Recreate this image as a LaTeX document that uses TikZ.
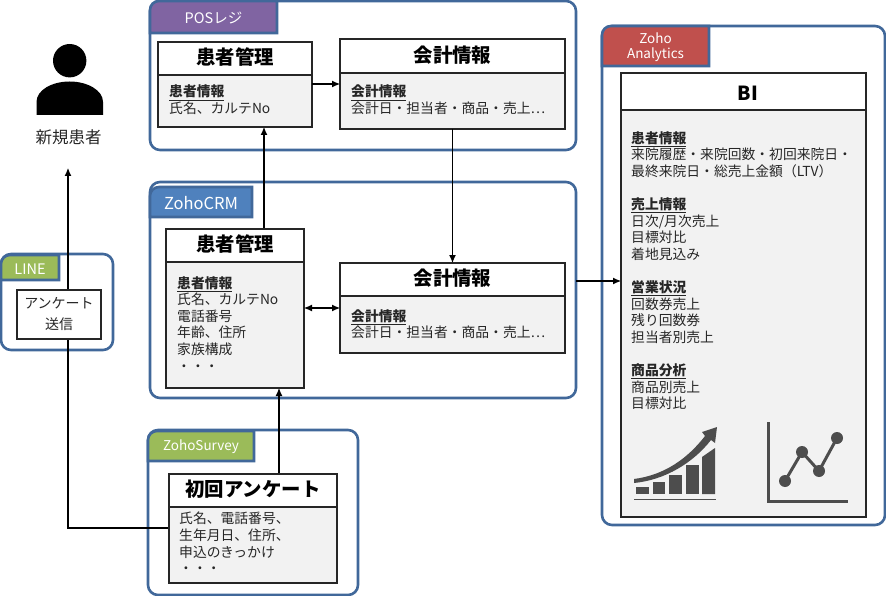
\documentclass[tikz,border=0pt]{standalone}
\usepackage{fontspec}
\setmainfont{Noto Sans CJK JP}
\usetikzlibrary{arrows.meta}
\definecolor{panelblue}{HTML}{41689A}
\definecolor{tabpurple}{HTML}{8064A2}
\definecolor{tabblue}{HTML}{4F81BD}
\definecolor{tabgreen}{HTML}{9BBB59}
\definecolor{tabred}{HTML}{C0504D}
\definecolor{cardgray}{HTML}{F2F2F2}
\definecolor{icongray}{HTML}{4D4D4D}
\definecolor{inkgray}{HTML}{262626}
\newcommand{\hd}[1]{\underline{\textbf{#1}}}
\newcommand{\tabbig}{\fontsize{16.5}{18}\selectfont}
\newcommand{\tabmid}{\fontsize{14.5}{16}\selectfont}

\begin{document}
\begin{tikzpicture}[x=1pt,y=-1pt]
    \tikzstyle{panel}=[draw=panelblue,line width=2.6pt,fill=white,rounded corners=10pt,anchor=north west,outer sep=0pt,inner sep=0pt]
    \tikzstyle{tabedge}=[draw=panelblue,line width=2.6pt,line join=miter]
    \tikzstyle{tablabel}=[white,font=\fontsize{13.5}{14.5}\selectfont,align=center,inner sep=0pt]
    \tikzstyle{cardhead}=[draw=inkgray,line width=1.6pt,fill=white,anchor=north west,outer sep=0pt,inner sep=0pt,text height=16pt,text depth=3.6pt,font=\fontsize{19.4}{22}\selectfont\bfseries]
    \tikzstyle{cardbody}=[draw=inkgray,line width=1.6pt,fill=cardgray,anchor=north west,outer sep=0pt,inner sep=0pt]
    \tikzstyle{cardtext}=[anchor=north west,align=left,inner sep=0pt,text=inkgray,font=\fontsize{13.8}{16.6}\selectfont]
    \tikzstyle{conn}=[black,line width=1.1pt,-{Latex[length=8pt,width=7pt]}]
    \useasboundingbox (0,0) rectangle (886,596);

    % panels
    \foreach \name/\x/\y/\w/\h in {posPanel/150/1/426/149, crmPanel/150/182/426/216, surveyPanel/148/430/210/165, linePanel/1/254/112/96, biPanel/602/26/283/499}
        \node[panel,minimum width=\w,minimum height=\h] (\name) at (\x,\y) {};

    % connectors run over the panels, under the cards
    \coordinate (patientIn) at (68,168);
    \coordinate (surveyOut) at (169,528);
    \coordinate (crmIn) at (279,388);
    \coordinate (posIn) at (264,127);
    \coordinate (posLink) at (340,84);
    \coordinate (crmLink) at (340,308);
    \coordinate (biIn) at (621,281);
    \draw[conn] (surveyOut) -| (patientIn);
    \draw[conn] (279,474) -- (crmIn);
    \draw[conn] (264,229) -- (posIn);
    \draw[conn] (576,281) -- (biIn);

    % tabs
    \foreach \name/\x/\y/\xx/\yy/\col/\txt in {posTab/150/1/277/33/tabpurple/{\tabmid POSレジ}, crmTab/150/187/252/217/tabblue/{\tabbig ZohoCRM}, surveyTab/148/431/254/461/tabgreen/ZohoSurvey, lineTab/1/255/59/280/tabgreen/{\tabmid LINE}, biTab/602/26/709/66/tabred/{Zoho\\Analytics}}
    {
        \path[tabedge,fill=\col] (\x,\yy) [rounded corners=9pt] -- (\x,\y) [sharp corners] -- (\xx,\y) -- (\xx,\yy) -- cycle;
        \node[tablabel] (\name) at ({(\x+\xx)/2},{(\y+\yy)/2+1.2}) {\txt};
    }

    % cards
    \foreach \name/\x/\y/\w/\hh/\bh/\ttl in {posKanja/158/42/154/33/52/患者管理, posKaikei/340/39/225/34/56/会計情報, crmKanja/166/229/138/33/126/患者管理, crmKaikei/340/263/225/33/57/会計情報, survey/169/474/168/33/76/初回アンケート, bi/621/73/245/37/407/{\hspace*{9pt}\raisebox{-2.5pt}{BI}}}
    {
        \node[cardhead,minimum width=\w,minimum height=\hh] (\name H) at (\x,\y) {\ttl};
        \node[cardbody,minimum width=\w,minimum height=\bh] (\name B) at (\name H.south west) {};
    }
    \node[draw=inkgray,line width=1.6pt,fill=white,minimum width=84,minimum height=49,anchor=north west,outer sep=0pt,inner sep=0pt,align=center,text=inkgray,font=\fontsize{14}{21}\selectfont] (lineBox) at (17,290) {アンケート\\送信};

    % card texts
    \foreach \name/\x/\y/\txt in {posKanjaT/169/85/{\hd{患者情報}\\氏名、カルテNo}, posKaikeiT/351/85/{\hd{会計情報}\\会計日・担当者・商品・売上…}, crmKanjaT/177/276/{\hd{患者情報}\\氏名、カルテNo\\電話番号\\年齢、住所\\家族構成\\ ・・・}, crmKaikeiT/351/309/{\hd{会計情報}\\会計日・担当者・商品・売上…}, surveyT/179/512/{氏名、電話番号、\\生年月日、住所、\\申込のきっかけ\\ ・・・}, biT/631/131/{\hd{患者情報}\\来院履歴・来院回数・初回来院日・\\最終来院日・総売上金額（LTV）\\[16.6pt]\hd{売上情報}\\日次/月次売上\\目標対比\\着地見込み\\[16.6pt]\hd{営業状況}\\回数券売上\\残り回数券\\担当者別売上\\[16.6pt]\hd{商品分析}\\商品別売上\\目標対比}}
        \node[cardtext] (\name) at (\x,\y) {\txt};

    % connectors between the cards
    \draw[conn] (posLink -| posKanjaB.east) -- (posLink);
    \draw[conn] (posKaikeiB.south) -- (crmKaikeiH.north);
    \draw[conn,{Latex[length=8pt,width=7pt]}-{Latex[length=8pt,width=7pt]}] (crmLink -| crmKanjaB.east) -- (crmLink);

    % new patient
    \fill[black] (69.7,60.7) circle (16.7);
    \fill[black] (36.5,115) -- (36.5,102) .. controls (36.5,90) and (52,81.5) .. (69.7,81.5) .. controls (87,81.5) and (103,90) .. (103,102) -- (103,115) -- cycle;
    \node[text=inkgray,font=\fontsize{16.5}{18}\selectfont,inner sep=0pt] (patient) at (68.5,137) {新規患者};

    % growth icon
    \foreach \x/\top in {636/487, 652.5/482, 669/475, 686/465}
        \fill[icongray] (\x,\top) rectangle (\x+12.5,494);
    \fill[icongray] (702,457) -- (715,448) -- (715,494) -- (702,494) -- cycle;
    \fill[icongray] (634,498.5) rectangle (716,500);
    \fill[icongray] (634,479) .. controls (665,475) and (688,458) .. (705,436) -- (702,432) -- (717,427) -- (715,443) -- (711,440) .. controls (693,463) and (665,480) .. (634,483) -- cycle;

    % line chart icon
    \draw[icongray,line width=3.6pt] (768.5,422) -- (768.5,501.5) -- (848,501.5);
    \draw[icongray,line width=3pt] (785,481) -- (802,452) -- (819,471) -- (837,438);
    \foreach \x/\y in {785/481, 802/452, 819/471, 837/438}
        \fill[icongray] (\x,\y) circle (6);
\end{tikzpicture}
\end{document}
